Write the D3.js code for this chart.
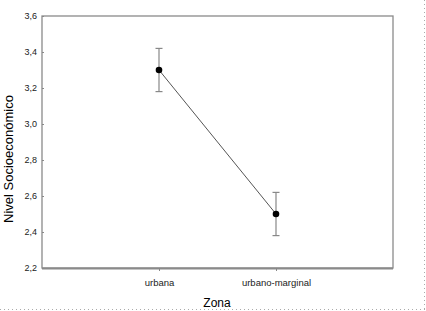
<!DOCTYPE html>
<html>
<head>
<meta charset="utf-8">
<script src="https://cdn.jsdelivr.net/npm/d3@7"></script>
<style>
  body { margin: 0; background: #fff; }
  svg { display: block; font-family: "Liberation Sans", Arial, sans-serif; }
</style>
</head>
<body>
<svg id="chart"></svg>
<script>
const zonas = ["urbana", "urbano-marginal"];
const medias = [3.3, 2.5];
const limInf = [3.18, 2.38];
const limSup = [3.42, 2.62];
const yTicks = [2.2, 2.4, 2.6, 2.8, 3.0, 3.2, 3.4, 3.6];

const width = 426, height = 311;
const margin = {top: 16, right: 33, bottom: 43, left: 42};

const svg = d3.select("#chart")
    .attr("width", width)
    .attr("height", height);

const x = d3.scalePoint()
    .domain(zonas)
    .range([margin.left, width - margin.right])
    .padding(1);

const y = d3.scaleLinear()
    .domain([2.2, 3.6])
    .range([height - margin.bottom, margin.top]);

const fmt = d => d3.format(".1f")(d).replace(".", ",");

// dotted page border (right and bottom)
svg.append("line")
    .attr("x1", width - 1.5).attr("x2", width - 1.5)
    .attr("y1", 0).attr("y2", height)
    .attr("stroke", "#aaa").attr("stroke-dasharray", "1,3");
svg.append("line")
    .attr("x1", 0).attr("x2", width)
    .attr("y1", height - 1.5).attr("y2", height - 1.5)
    .attr("stroke", "#aaa").attr("stroke-dasharray", "1,3");

// frame
svg.append("rect")
    .attr("x", margin.left).attr("y", margin.top)
    .attr("width", width - margin.left - margin.right)
    .attr("height", height - margin.top - margin.bottom)
    .attr("fill", "none")
    .attr("stroke", "#8a8a8a")
    .attr("stroke-width", 1.3);

// heavier bottom edge
svg.append("line")
    .attr("x1", margin.left).attr("x2", width - margin.right)
    .attr("y1", height - margin.bottom + 0.5).attr("y2", height - margin.bottom + 0.5)
    .attr("stroke", "#8a8a8a")
    .attr("stroke-width", 2);

// y axis
svg.append("g")
    .attr("transform", `translate(${margin.left},0)`)
    .call(d3.axisRight(y).tickValues(yTicks).tickSize(2).tickFormat(""))
    .call(g => g.select(".domain").remove())
    .call(g => g.selectAll(".tick line").attr("stroke", "#888"));

svg.append("g")
    .selectAll("text")
    .data(yTicks)
    .join("text")
      .attr("x", margin.left - 5)
      .attr("y", d => y(d))
      .attr("dy", "0.35em")
      .attr("text-anchor", "end")
      .attr("font-size", 9)
      .attr("fill", "#222")
      .text(fmt);

// x axis
svg.append("g")
    .attr("transform", `translate(0,${height - margin.bottom})`)
    .call(d3.axisBottom(x).tickSize(3).tickPadding(8))
    .call(g => g.select(".domain").remove())
    .call(g => g.selectAll(".tick line").attr("stroke", "#888"))
    .call(g => g.selectAll(".tick text")
        .attr("font-size", 9.5)
        .attr("fill", "#222")
        .attr("font-family", "Liberation Sans, Arial, sans-serif"));

// axis titles
svg.append("text")
    .attr("x", 217)
    .attr("y", 303)
    .attr("dy", "0.35em")
    .attr("text-anchor", "middle")
    .attr("font-size", 12)
    .text("Zona");

svg.append("text")
    .attr("transform", `translate(8,159) rotate(-90)`)
    .attr("dy", "0.35em")
    .attr("text-anchor", "middle")
    .attr("font-size", 13)
    .text("Nivel Socioeconómico");

const data = zonas.map((z, i) => ({zona: z, media: medias[i], inf: limInf[i], sup: limSup[i]}));

// error bars
const eb = svg.append("g").attr("stroke", "#888").attr("stroke-width", 1.2);
eb.selectAll(".v").data(data).join("line")
    .attr("x1", d => x(d.zona)).attr("x2", d => x(d.zona))
    .attr("y1", d => y(d.inf)).attr("y2", d => y(d.sup));
eb.selectAll(".t").data(data).join("line")
    .attr("x1", d => x(d.zona) - 3.5).attr("x2", d => x(d.zona) + 3.5)
    .attr("y1", d => y(d.sup)).attr("y2", d => y(d.sup));
eb.selectAll(".b").data(data).join("line")
    .attr("x1", d => x(d.zona) - 3.5).attr("x2", d => x(d.zona) + 3.5)
    .attr("y1", d => y(d.inf)).attr("y2", d => y(d.inf));

// line
svg.append("path")
    .datum(data)
    .attr("fill", "none")
    .attr("stroke", "#555")
    .attr("stroke-width", 1)
    .attr("d", d3.line().x(d => x(d.zona)).y(d => y(d.media)));

// points
svg.append("g")
    .selectAll("circle")
    .data(data)
    .join("circle")
      .attr("cx", d => x(d.zona))
      .attr("cy", d => y(d.media))
      .attr("r", 3.3)
      .attr("fill", "#000");
</script>
</body>
</html>
